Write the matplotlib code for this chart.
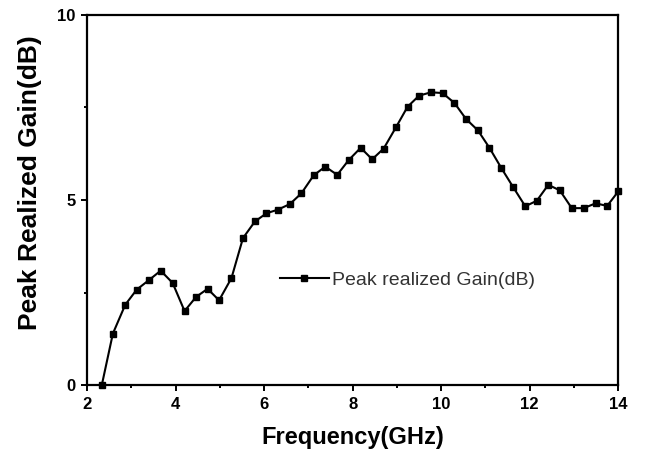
import matplotlib
matplotlib.use('Agg')
import matplotlib.pyplot as plt
from matplotlib.ticker import MultipleLocator

plt.rcParams['font.family'] = ['Liberation Sans', 'DejaVu Sans']

# frequency sweep (GHz) and peak realized gain (dB)
freq = [2.33, 2.58, 2.86, 3.12, 3.40, 3.66, 3.93, 4.20, 4.46, 4.72,
        4.98, 5.26, 5.52, 5.79, 6.05, 6.31, 6.58, 6.84, 7.12, 7.38,
        7.65, 7.91, 8.18, 8.44, 8.70, 8.98, 9.24, 9.50, 9.77, 10.03,
        10.30, 10.56, 10.83, 11.09, 11.36, 11.63, 11.90, 12.16, 12.42, 12.68,
        12.95, 13.22, 13.49, 13.75, 14.00]
gain = [0.00, 1.39, 2.17, 2.58, 2.84, 3.09, 2.76, 2.00, 2.38, 2.60,
        2.29, 2.89, 3.97, 4.42, 4.64, 4.74, 4.89, 5.18, 5.67, 5.90,
        5.68, 6.08, 6.41, 6.10, 6.39, 6.97, 7.52, 7.82, 7.91, 7.89,
        7.62, 7.19, 6.88, 6.41, 5.86, 5.34, 4.83, 4.98, 5.41, 5.26,
        4.78, 4.78, 4.91, 4.84, 5.23]

fig = plt.figure(figsize=(6.46, 4.53), dpi=100)
ax = fig.add_axes([0.135, 0.150, 0.822, 0.817])

ax.plot(freq, gain, color='black', lw=1.5, marker='s', ms=5,
        label='Peak realized Gain(dB)', clip_on=False, zorder=3)

ax.set_xlim(2, 14)
ax.set_ylim(0, 10)
ax.xaxis.set_major_locator(MultipleLocator(2))
ax.xaxis.set_minor_locator(MultipleLocator(1))
ax.yaxis.set_major_locator(MultipleLocator(5))
ax.yaxis.set_minor_locator(MultipleLocator(2.5))
ax.tick_params(which='both', direction='out', top=False, right=False, width=1.4)
ax.tick_params(which='major', length=4.5, labelsize=12, pad=4)
ax.tick_params(which='minor', length=2.5)
for lab in ax.get_xticklabels() + ax.get_yticklabels():
    lab.set_fontweight('bold')
for sp in ax.spines.values():
    sp.set_linewidth(1.6)

ax.set_xlabel('Frequency(GHz)', fontsize=17, fontweight='bold', labelpad=10)
ax.set_ylabel('Peak Realized Gain(dB)', fontsize=19, fontweight='bold')
ax.yaxis.set_label_coords(-0.085, 0.547)

leg = ax.legend(loc='center left', bbox_to_anchor=(0.33, 0.284), frameon=False,
                fontsize=14, handlelength=2.5, handletextpad=0.2)
for t in leg.get_texts():
    t.set_color('#333333')

fig.savefig('out.png', dpi=100)
